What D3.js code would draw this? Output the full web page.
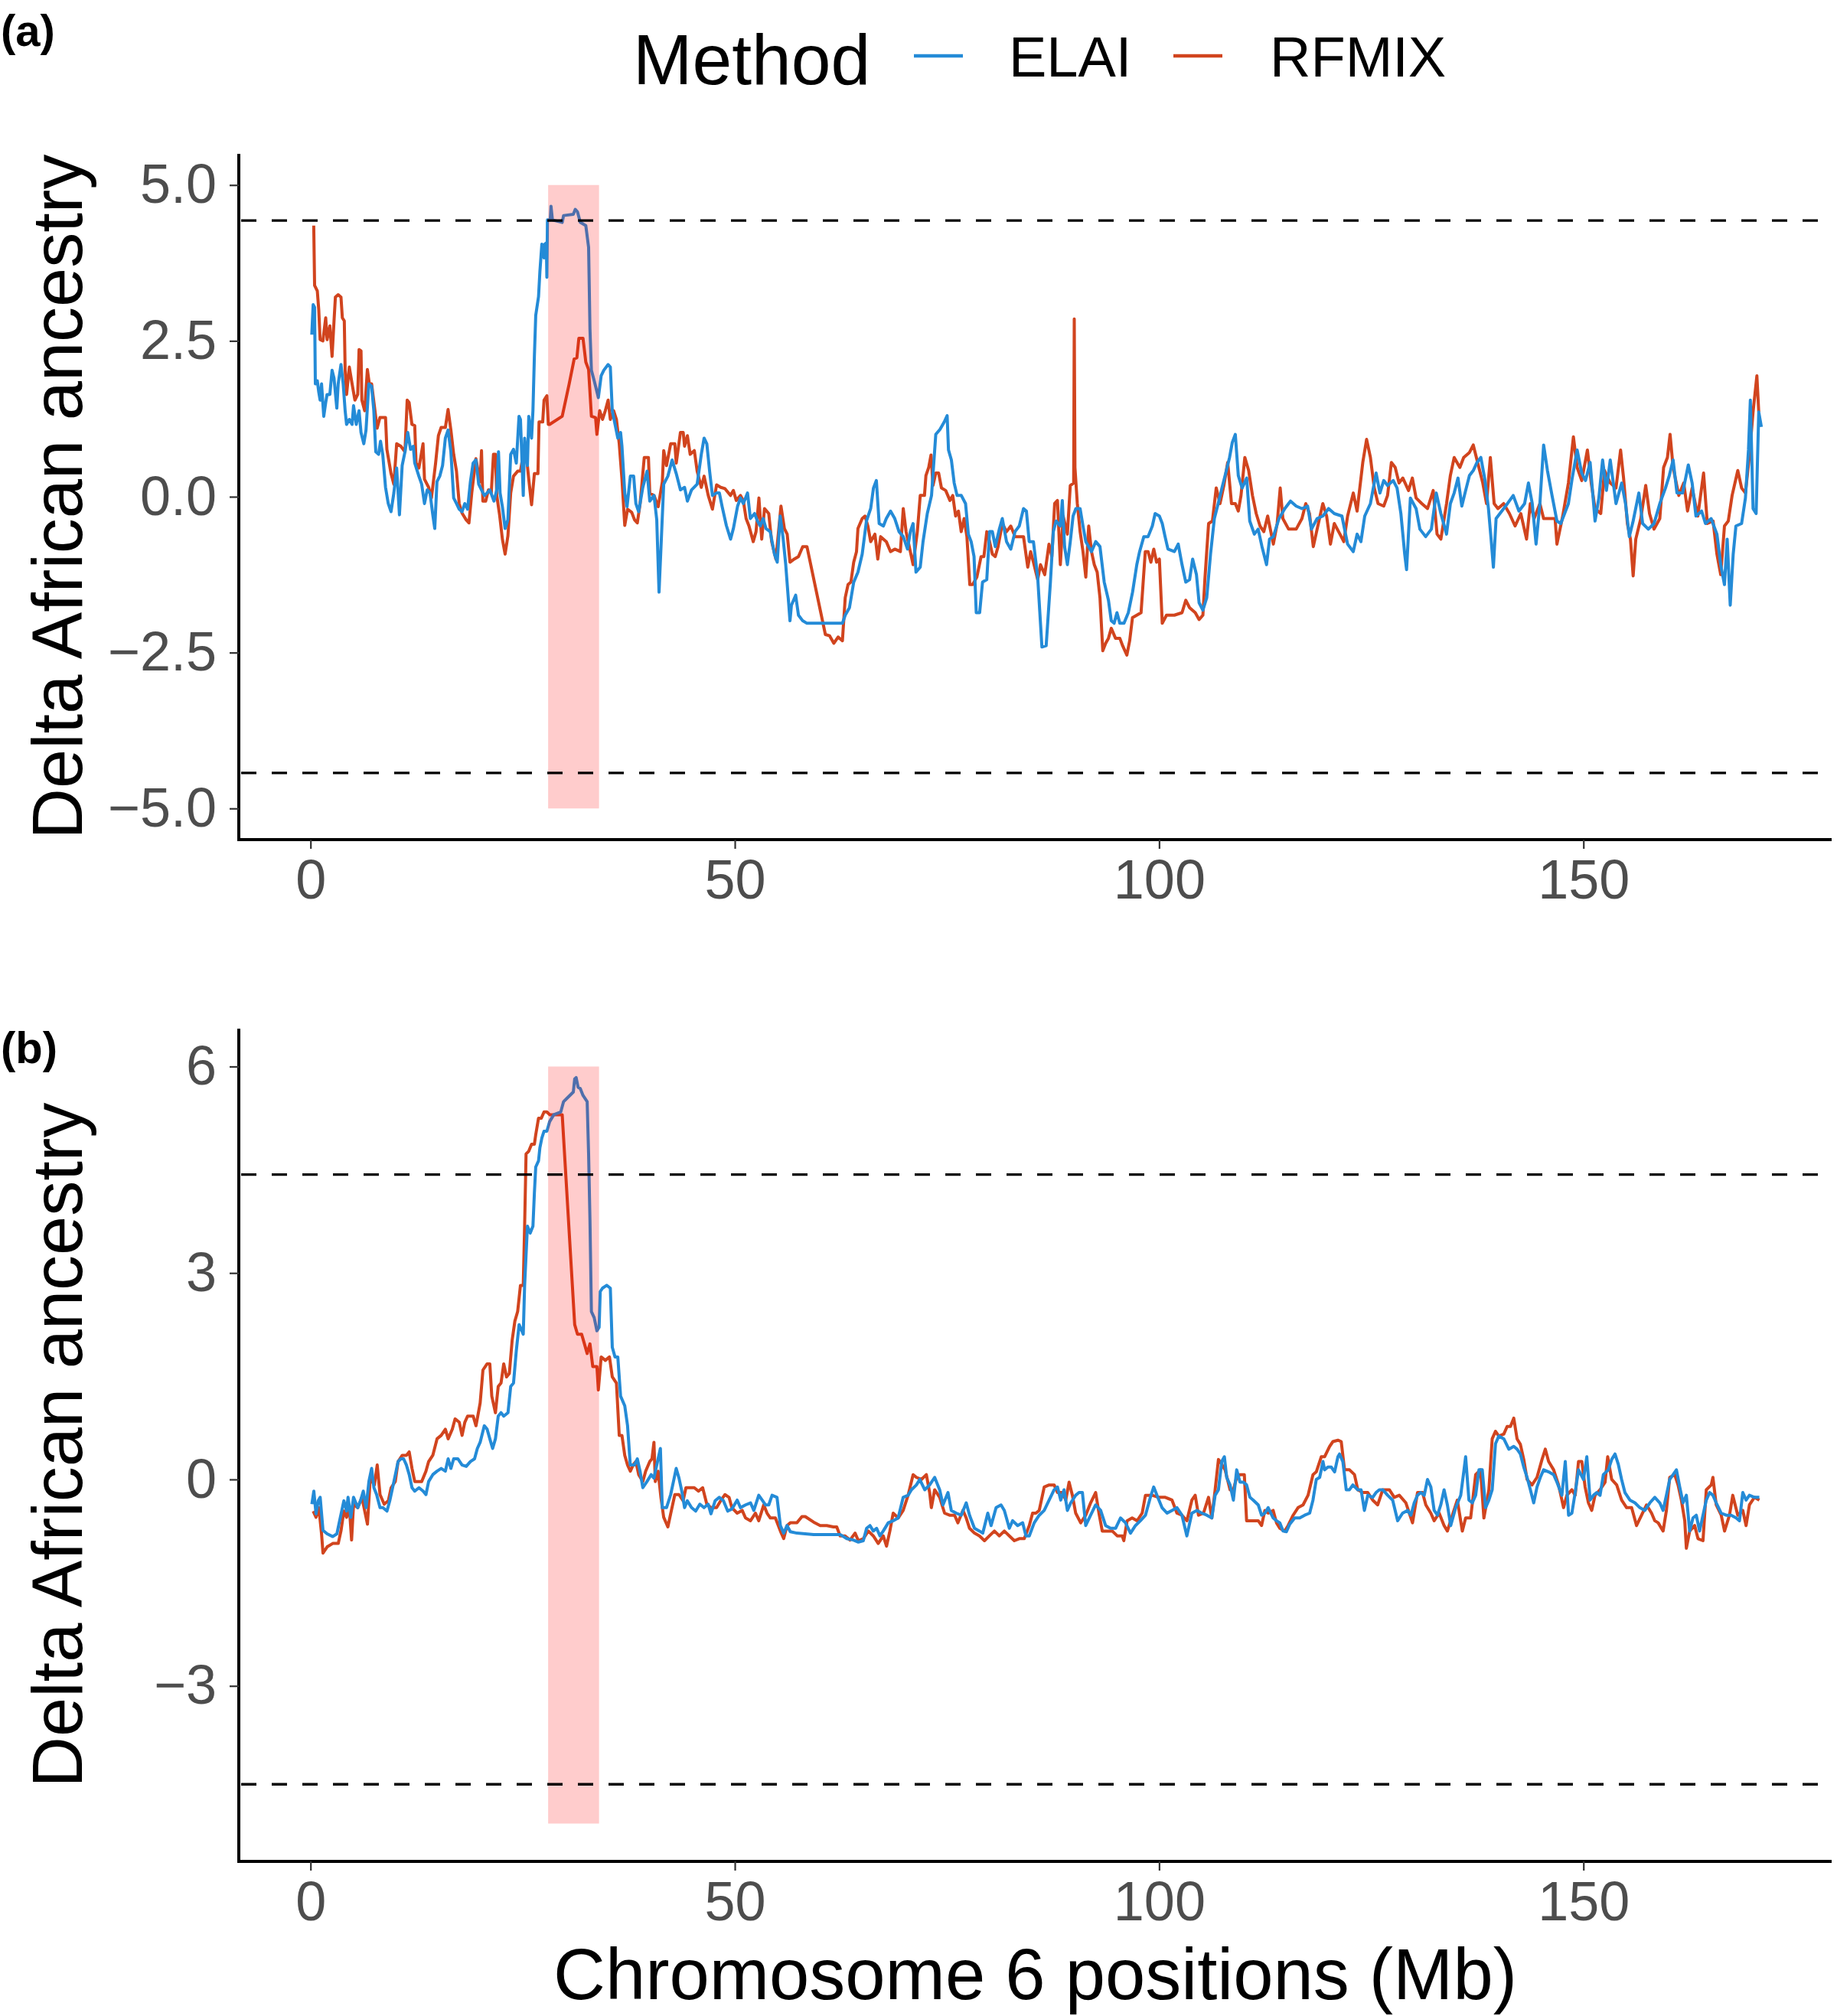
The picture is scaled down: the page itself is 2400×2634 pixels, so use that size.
<!DOCTYPE html>
<html><head><meta charset="utf-8">
<script src="https://cdn.jsdelivr.net/npm/d3@7"></script>
<style>body{margin:0;background:#fff}svg{display:block}</style>
</head><body>
<script>
// ---------------- DATA ----------------
const methods = ["ELAI", "RFMIX"];
const xTicks = [0, 50, 100, 150];
const yTicksA = [-5, -2.5, 0, 2.5, 5];
const yTickLabelsA = ["\u22125.0", "\u22122.5", "0.0", "2.5", "5.0"];
const yTicksB = [-3, 0, 3, 6];
const yTickLabelsB = ["\u22123", "0", "3", "6"];
const threshold = 4.43;
const regionX = [28, 34];
const regionYA = [-5, 5];
const regionYB = [-5, 6];

// Panel (a) ELAI  [position Mb, delta]
const elaiA = [[0.15,2.60],[0.31,3.08],[0.48,3.04],[0.57,1.81],[0.80,1.86],[0.97,1.68],[1.13,1.55],[1.30,1.81],[1.56,1.29],[1.79,1.51],[1.95,1.64],[2.28,1.64],[2.54,2.03],[2.77,1.90],[3.10,1.42],[3.26,1.81],[3.59,2.12],[3.85,1.81],[4.08,1.38],[4.25,1.16],[4.57,1.24],[4.90,1.16],[5.07,1.46],[5.39,1.16],[5.72,1.38],[5.95,1.03],[6.28,0.85],[6.54,1.07],[6.87,1.81],[7.20,1.77],[7.46,1.38],[7.69,0.72],[8.02,0.68],[8.25,0.89],[8.51,0.68],[8.84,0.15],[9.16,-0.11],[9.49,-0.24],[9.82,0.06],[10.15,0.46],[10.48,-0.29],[10.80,0.50],[11.13,0.72],[11.46,1.03],[11.79,0.76],[12.11,0.81],[12.28,0.54],[12.77,0.33],[13.10,0.20],[13.43,-0.11],[13.75,0.11],[14.08,0.06],[14.41,-0.29],[14.64,-0.51],[14.90,0.24],[15.23,0.33],[15.56,0.50],[15.89,0.94],[16.21,1.07],[16.54,0.72],[16.87,-0.02],[17.20,-0.11],[17.52,-0.20],[17.85,-0.24],[18.18,-0.11],[18.51,-0.20],[18.84,0.24],[19.16,0.54],[19.49,0.59],[19.82,0.20],[20.15,0.11],[20.48,0.02],[20.80,0.06],[21.13,0.11],[21.62,-0.07],[21.95,0.11],[22.15,0.72],[22.34,0.06],[22.61,-0.16],[22.93,-0.51],[23.26,-0.37],[23.59,0.68],[23.92,0.76],[24.25,0.54],[24.57,1.29],[24.74,1.24],[25.07,0.02],[25.23,0.94],[25.56,0.50],[25.72,1.29],[26.05,0.94],[26.21,1.38],[26.38,2.25],[26.54,2.91],[26.87,3.21],[27.03,3.61],[27.26,4.05],[27.52,3.83],[27.59,4.05],[27.79,4.07],[27.85,3.52],[27.92,4.44],[28.25,4.44],[28.34,4.66],[28.51,4.44],[29.66,4.40],[29.82,4.51],[30.97,4.53],[31.20,4.61],[31.46,4.57],[31.79,4.40],[32.44,4.35],[32.77,4.00],[32.93,2.69],[33.10,2.03],[33.43,1.86],[33.92,1.59],[34.25,1.94],[34.57,2.03],[35.07,2.12],[35.33,2.08],[35.56,1.38],[35.89,1.16],[36.21,0.94],[36.54,1.03],[36.70,0.81],[37.03,0.06],[37.30,-0.16],[37.69,0.33],[38.08,0.33],[38.34,-0.11],[38.67,-0.24],[39.16,0.15],[39.66,0.41],[39.98,-0.07],[40.48,0.02],[40.80,-0.37],[41.07,-1.53],[41.30,-0.81],[41.62,0.20],[42.11,0.33],[42.61,0.59],[43.10,0.37],[43.59,0.11],[44.08,0.15],[44.41,-0.07],[44.90,0.11],[45.56,0.20],[46.05,0.68],[46.38,0.94],[46.70,0.85],[47.03,0.41],[47.36,0.02],[47.85,0.06],[48.18,0.06],[48.51,-0.16],[49.00,-0.46],[49.50,-0.68],[49.83,-0.51],[50.33,-0.15],[50.67,-0.02],[51.00,-0.11],[51.50,0.06],[51.83,-0.35],[52.33,-0.27],[52.67,-0.39],[53.00,-0.47],[53.34,-0.35],[53.67,-0.51],[54.17,-0.56],[54.67,-0.92],[55.00,-1.05],[55.34,-0.31],[55.67,-0.64],[56.00,-1.09],[56.34,-1.70],[56.50,-1.99],[56.67,-1.74],[57.17,-1.58],[57.50,-1.90],[58.00,-1.99],[58.50,-2.03],[62.68,-2.03],[63.01,-1.90],[63.51,-1.78],[64.01,-1.37],[64.51,-1.21],[65.01,-0.92],[65.51,-0.39],[66.01,-0.19],[66.34,0.14],[66.68,0.26],[67.01,-0.43],[67.51,-0.47],[67.85,-0.35],[68.35,-0.23],[68.85,-0.35],[69.35,-0.56],[69.85,-0.64],[70.35,-0.84],[70.68,-0.56],[71.01,-0.43],[71.35,-1.21],[71.85,-1.13],[72.18,-0.72],[72.68,-0.27],[73.18,0.02],[73.68,1.00],[74.18,1.08],[74.68,1.20],[75.02,1.30],[75.18,0.75],[75.52,0.59],[75.85,0.22],[76.19,0.02],[76.69,0.02],[77.19,-0.11],[77.52,-0.60],[77.85,-0.72],[78.19,-0.96],[78.45,-1.86],[78.85,-1.86],[79.19,-1.37],[79.69,-1.33],[80.02,-0.56],[80.35,-0.56],[80.69,-0.80],[81.19,-0.51],[81.52,-0.35],[82.02,-0.72],[82.52,-0.84],[83.02,-0.56],[83.52,-0.47],[84.02,-0.19],[84.36,-0.23],[84.69,-0.72],[85.19,-0.72],[85.69,-1.29],[86.19,-2.41],[86.69,-2.39],[87.19,-1.37],[87.53,-0.56],[87.86,-0.39],[88.36,-0.47],[88.59,-0.06],[88.86,-0.80],[89.19,-1.09],[89.53,-0.72],[89.86,-0.31],[90.19,-0.19],[90.69,-0.19],[91.03,-0.47],[91.36,-0.72],[91.70,-0.80],[92.03,-0.88],[92.53,-0.72],[93.03,-0.80],[93.53,-1.37],[94.03,-1.66],[94.36,-1.99],[94.70,-2.03],[95.03,-1.86],[95.37,-2.03],[95.86,-2.03],[96.37,-1.86],[96.87,-1.53],[97.37,-1.09],[97.70,-0.88],[98.20,-0.64],[98.70,-0.64],[99.20,-0.47],[99.53,-0.27],[100.03,-0.31],[100.37,-0.43],[100.70,-0.64],[101.04,-0.84],[101.80,-0.88],[102.25,-0.76],[102.70,-1.09],[103.14,-1.37],[103.59,-1.33],[103.95,-1.00],[104.40,-1.25],[104.71,-1.70],[105.16,-1.82],[105.61,-1.62],[106.06,-0.92],[106.51,-0.35],[106.96,-0.11],[107.40,0.14],[107.85,0.38],[108.30,0.63],[108.62,0.87],[108.98,1.00],[109.33,0.34],[109.78,0.14],[110.32,0.30],[110.68,-0.39],[111.22,-0.60],[111.67,-0.52],[112.12,-0.80],[112.66,-1.09],[113.01,-0.68],[113.46,-0.64],[114.13,-0.35],[114.81,-0.19],[115.48,-0.07],[116.15,-0.15],[116.83,-0.19],[117.50,-0.15],[117.95,-0.52],[118.62,-0.35],[119.29,-0.31],[119.97,-0.19],[120.64,-0.27],[121.54,-0.31],[122.21,-0.76],[122.88,-0.88],[123.33,-0.60],[123.78,-0.72],[124.23,-0.31],[124.90,-0.11],[125.57,0.38],[126.02,0.06],[126.47,0.26],[126.92,0.18],[127.59,0.26],[128.04,0.14],[128.49,-0.27],[128.94,-0.92],[129.16,-1.17],[129.61,-0.02],[130.28,-0.19],[130.73,-0.52],[131.41,-0.64],[132.08,-0.52],[132.66,0.06],[133.20,-0.27],[133.87,-0.60],[134.32,-0.11],[134.77,0.06],[135.22,0.30],[135.67,-0.15],[136.12,0.10],[136.57,0.34],[137.02,0.42],[137.46,0.55],[137.91,0.63],[138.36,0.30],[138.81,-0.19],[139.12,-0.68],[139.39,-1.13],[139.71,-0.35],[140.38,-0.23],[141.05,-0.11],[141.73,0.02],[142.40,-0.23],[143.07,-0.11],[143.52,0.22],[143.97,-0.11],[144.42,-0.76],[144.87,-0.11],[145.31,0.83],[145.76,0.42],[146.30,0.02],[146.88,-0.39],[147.33,-0.43],[147.78,-0.27],[148.23,-0.11],[148.68,0.30],[149.26,0.75],[149.80,0.38],[150.25,0.26],[150.79,0.55],[151.37,-0.39],[151.82,-0.02],[152.26,0.59],[152.71,0.10],[153.16,0.59],[153.84,-0.11],[154.51,0.22],[154.96,-0.11],[155.41,-0.64],[155.86,-0.39],[156.53,0.06],[156.98,-0.43],[157.65,-0.52],[158.32,-0.43],[159.00,-0.11],[159.67,0.14],[160.12,0.34],[160.57,0.59],[161.02,0.06],[161.69,0.06],[162.36,0.51],[162.81,0.22],[163.26,-0.31],[163.93,-0.23],[164.38,-0.43],[165.05,-0.35],[165.73,-0.60],[166.18,-1.09],[166.62,-1.41],[166.94,-0.68],[167.30,-1.74],[167.65,-0.92],[167.97,-0.47],[168.64,-0.43],[169.09,-0.02],[169.45,0.75],[169.67,1.55],[169.99,-0.19],[170.35,-0.27],[170.66,1.36],[170.97,1.12]];

// Panel (a) RFMIX
const rfmixA = [[0.38,4.35],[0.48,3.39],[0.80,3.30],[0.97,3.00],[1.13,2.52],[1.46,2.50],[1.79,2.87],[1.95,2.52],[2.28,2.74],[2.54,2.25],[2.77,2.82],[2.93,3.20],[3.26,3.24],[3.59,3.20],[3.75,2.87],[3.98,2.82],[4.08,2.04],[4.25,1.64],[4.57,2.08],[4.90,1.81],[5.23,1.55],[5.56,1.64],[5.72,2.36],[5.95,2.34],[6.05,1.55],[6.38,1.38],[6.70,2.04],[6.93,1.81],[7.20,1.81],[7.52,1.46],[7.85,1.10],[8.18,1.27],[8.84,1.27],[9.00,0.76],[9.49,0.37],[9.82,0.20],[10.15,0.85],[10.64,0.81],[11.13,0.72],[11.39,1.55],[11.62,1.51],[11.95,1.16],[12.28,1.14],[12.44,0.54],[12.77,0.46],[13.26,0.85],[13.43,0.28],[13.92,0.15],[14.25,-0.02],[14.74,0.54],[15.07,0.98],[15.39,1.11],[15.89,1.11],[16.21,1.40],[16.54,1.07],[16.87,0.68],[17.20,0.41],[17.52,-0.11],[17.85,-0.26],[18.34,-0.37],[18.67,-0.42],[19.00,0.06],[19.49,0.61],[19.98,0.24],[20.15,0.74],[20.31,-0.07],[20.64,-0.07],[20.97,0.11],[21.30,0.06],[21.56,0.68],[21.79,0.68],[21.95,0.02],[22.28,-0.29],[22.61,-0.68],[22.93,-0.92],[23.26,-0.63],[23.59,0.06],[23.92,0.33],[24.41,0.41],[24.74,0.41],[25.07,0.68],[25.39,0.72],[25.72,0.28],[26.05,-0.13],[26.38,0.37],[26.80,0.37],[26.93,1.20],[27.36,1.20],[27.52,1.55],[27.85,1.62],[28.02,1.16],[28.18,1.16],[29.66,1.29],[30.48,1.81],[31.07,2.21],[31.39,2.23],[31.62,2.54],[32.11,2.54],[32.44,2.16],[32.77,2.04],[33.10,1.29],[33.59,1.27],[33.75,1.00],[34.08,1.38],[34.41,1.24],[34.74,1.38],[35.07,1.55],[35.33,1.24],[35.72,1.38],[36.05,1.24],[36.38,0.85],[36.70,0.28],[37.03,-0.46],[37.36,-0.20],[37.85,-0.25],[38.18,-0.37],[38.51,-0.42],[38.84,-0.11],[39.33,0.63],[39.82,0.63],[39.98,0.06],[40.48,0.02],[40.97,-0.16],[41.46,0.24],[41.62,0.74],[41.95,0.50],[42.44,0.85],[42.93,0.85],[43.10,0.54],[43.59,1.03],[43.92,1.03],[44.08,0.81],[44.41,0.98],[44.74,0.68],[45.23,0.74],[45.56,0.41],[46.05,0.15],[46.38,0.33],[46.87,0.02],[47.36,-0.20],[47.85,0.19],[48.34,0.15],[48.84,0.13],[49.49,0.02],[49.83,0.10],[50.17,-0.06],[50.67,0.02],[51.00,-0.06],[51.33,-0.35],[51.67,-0.47],[52.17,-0.72],[52.50,-0.56],[52.84,-0.02],[53.17,-0.68],[53.50,-0.19],[54.00,-0.27],[54.34,-0.72],[54.84,-1.00],[55.44,-0.15],[55.84,-0.51],[56.17,-0.60],[56.50,-1.05],[57.00,-1.00],[57.50,-0.96],[58.00,-0.80],[58.50,-0.80],[60.67,-2.21],[61.17,-2.23],[61.67,-2.35],[62.17,-2.25],[62.68,-2.31],[63.01,-1.62],[63.34,-1.41],[63.68,-1.37],[64.01,-1.05],[64.34,-0.88],[64.51,-0.51],[65.01,-0.35],[65.34,-0.31],[65.68,-0.47],[66.01,-0.72],[66.51,-0.60],[66.85,-1.00],[67.18,-0.64],[67.85,-0.72],[68.35,-0.88],[68.85,-0.84],[69.51,-0.88],[69.85,-0.19],[70.18,-0.56],[70.68,-0.88],[71.01,-1.09],[71.51,-0.56],[71.85,0.02],[72.35,0.02],[72.52,0.34],[72.85,0.47],[73.12,0.67],[73.35,0.18],[73.68,0.38],[74.02,0.38],[74.35,0.14],[74.85,0.10],[75.35,-0.06],[75.68,0.02],[76.02,-0.31],[76.35,-0.23],[76.68,-0.56],[77.02,-0.35],[77.35,-0.64],[77.69,-1.41],[78.02,-1.41],[78.52,-1.29],[79.02,-0.96],[79.35,-0.96],[79.69,-0.56],[80.02,-0.72],[80.35,-0.92],[80.69,-0.96],[81.02,-0.80],[81.52,-0.43],[82.02,-0.56],[82.52,-0.47],[83.02,-0.64],[83.52,-0.64],[84.02,-0.64],[84.52,-1.13],[84.86,-0.88],[85.19,-1.05],[85.69,-1.33],[86.02,-1.09],[86.52,-1.25],[87.02,-0.76],[87.36,-0.96],[87.69,-0.11],[88.02,-0.06],[88.36,-1.09],[88.69,-0.31],[89.19,-0.60],[89.53,0.18],[89.93,0.22],[90.00,2.85],[90.08,0.47],[90.36,-0.11],[90.69,-0.56],[91.03,-0.88],[91.36,-1.29],[91.70,-0.47],[92.03,-0.88],[92.36,-1.09],[92.70,-1.21],[93.03,-1.62],[93.36,-2.47],[93.70,-2.35],[94.03,-2.27],[94.36,-2.11],[94.86,-2.27],[95.37,-2.27],[95.70,-2.39],[96.20,-2.54],[96.53,-2.31],[96.86,-1.94],[97.37,-1.90],[97.87,-1.86],[98.37,-0.88],[98.70,-0.88],[99.03,-1.05],[99.37,-0.84],[99.70,-1.05],[100.03,-1.00],[100.37,-2.03],[100.87,-1.90],[101.80,-1.90],[102.70,-1.86],[103.14,-1.66],[103.59,-1.78],[104.26,-1.86],[104.71,-1.97],[105.16,-1.90],[105.39,-1.33],[105.83,-0.43],[106.28,-0.39],[106.73,0.14],[107.18,-0.11],[107.63,0.18],[108.08,0.55],[108.53,-0.11],[108.98,-0.11],[109.33,-0.23],[109.65,0.02],[110.10,0.63],[110.55,0.42],[111.00,0.02],[111.44,-0.27],[111.89,-0.47],[112.34,-0.56],[112.79,-0.31],[113.46,-0.76],[113.91,-0.43],[114.27,0.14],[114.58,-0.35],[115.26,-0.52],[116.15,-0.52],[116.83,-0.35],[117.28,-0.11],[117.72,-0.27],[118.17,-0.80],[118.62,-0.52],[119.29,-0.11],[119.74,-0.31],[120.19,-0.76],[120.64,-0.43],[121.31,-0.60],[121.76,-0.72],[122.21,-0.31],[122.88,0.06],[123.33,-0.23],[124.00,0.55],[124.45,0.92],[124.90,0.63],[125.35,0.14],[125.80,-0.11],[126.47,-0.15],[126.92,0.02],[127.37,0.55],[127.82,0.47],[128.27,0.22],[128.72,0.30],[129.39,0.10],[129.84,0.30],[130.28,-0.02],[130.96,-0.11],[131.63,-0.19],[132.30,0.10],[132.75,-0.60],[133.20,-0.68],[133.87,-0.11],[134.32,0.34],[134.77,0.63],[135.44,0.47],[135.89,0.63],[136.57,0.71],[137.02,0.83],[137.46,0.59],[138.14,0.22],[138.58,-0.11],[139.03,0.63],[139.48,-0.11],[139.93,-0.19],[140.60,-0.11],[141.28,-0.27],[141.95,-0.47],[142.62,-0.27],[143.30,-0.68],[143.74,-0.11],[144.19,-0.35],[144.87,-0.11],[145.31,-0.35],[145.99,-0.35],[146.66,-0.35],[146.88,-0.76],[147.56,-0.31],[148.23,0.22],[148.82,0.96],[149.26,0.47],[149.80,0.26],[150.47,0.75],[150.92,0.22],[151.37,-0.19],[152.04,-0.27],[152.49,0.42],[153.16,0.22],[153.84,0.14],[154.38,0.75],[154.73,0.30],[155.18,-0.43],[155.54,-0.68],[155.86,-1.27],[156.17,-0.68],[156.76,-0.35],[157.34,0.18],[157.79,-0.27],[158.32,-0.52],[159.00,-0.35],[159.45,0.47],[159.90,0.63],[160.21,1.00],[160.57,0.47],[161.24,0.02],[161.82,0.22],[162.27,-0.23],[162.81,0.14],[163.48,-0.31],[164.16,0.38],[164.60,-0.43],[165.28,-0.39],[165.73,-0.92],[166.18,-1.25],[166.62,-0.47],[167.07,-0.39],[167.52,0.02],[168.19,0.42],[168.64,0.14],[169.09,0.06],[169.54,0.63],[169.99,1.36],[170.44,1.94],[170.66,1.36]];

// Panel (b) ELAI
const elaiB = [[0.16,-0.36],[0.39,-0.17],[0.65,-0.50],[0.91,-0.31],[1.14,-0.26],[1.47,-0.74],[1.96,-0.79],[2.62,-0.83],[3.11,-0.79],[3.43,-0.60],[3.93,-0.31],[4.25,-0.46],[4.42,-0.26],[4.75,-0.55],[5.07,-0.26],[5.57,-0.41],[5.89,-0.31],[6.22,-0.17],[6.55,-0.41],[6.88,-0.03],[7.20,0.16],[7.47,-0.12],[7.79,-0.22],[8.19,-0.41],[8.52,-0.41],[9.01,-0.46],[9.34,-0.31],[9.83,-0.03],[10.32,0.26],[10.65,0.30],[10.97,0.30],[11.30,0.21],[11.63,0.07],[11.96,-0.12],[12.28,-0.17],[12.78,-0.12],[13.27,-0.17],[13.60,-0.22],[13.92,-0.03],[14.41,0.07],[14.91,0.12],[15.40,0.16],[15.89,0.12],[16.22,0.30],[16.54,0.16],[16.87,0.30],[17.36,0.30],[17.86,0.21],[18.35,0.19],[18.84,0.26],[19.33,0.30],[19.66,0.45],[19.99,0.54],[20.48,0.78],[20.81,0.73],[21.13,0.59],[21.46,0.45],[21.79,0.59],[22.12,0.92],[22.45,0.97],[22.77,0.92],[23.27,0.97],[23.59,1.35],[23.92,1.40],[24.25,1.87],[24.58,2.25],[24.90,2.16],[25.07,2.11],[25.23,2.82],[25.56,3.68],[25.89,3.58],[26.21,3.68],[26.38,4.16],[26.54,4.54],[26.87,4.63],[27.03,4.82],[27.26,4.96],[27.52,5.06],[27.85,5.06],[28.18,5.20],[28.67,5.30],[29.49,5.34],[29.82,5.49],[30.15,5.53],[30.97,5.63],[31.13,5.82],[31.30,5.84],[31.53,5.70],[31.79,5.68],[32.11,5.58],[32.60,5.49],[32.77,4.73],[32.93,3.77],[33.10,2.44],[33.43,2.35],[33.75,2.16],[34.01,2.21],[34.14,2.73],[34.41,2.78],[34.90,2.82],[35.33,2.78],[35.56,1.92],[35.88,1.78],[36.21,1.78],[36.54,1.21],[37.03,1.07],[37.36,0.78],[37.68,0.21],[38.18,0.21],[38.51,0.30],[38.83,0.12],[39.16,-0.12],[39.65,-0.03],[40.14,0.07],[40.47,0.02],[40.80,0.21],[41.23,0.45],[41.45,-0.41],[41.95,-0.41],[42.44,-0.22],[42.77,-0.03],[43.09,0.16],[43.42,0.02],[43.75,-0.17],[44.08,-0.41],[44.40,-0.31],[44.90,-0.41],[45.39,-0.46],[45.88,-0.36],[46.37,-0.41],[46.86,-0.36],[47.19,-0.50],[47.68,-0.31],[48.17,-0.26],[48.66,-0.31],[49.16,-0.46],[49.65,-0.43],[50.28,-0.30],[50.67,-0.41],[51.26,-0.37],[51.85,-0.34],[52.24,-0.45],[52.82,-0.23],[53.22,-0.30],[53.61,-0.37],[54.00,-0.37],[54.39,-0.23],[54.97,-0.26],[55.37,-0.67],[55.76,-0.78],[56.15,-0.67],[56.54,-0.76],[57.32,-0.78],[59.28,-0.80],[61.23,-0.80],[62.41,-0.80],[63.19,-0.86],[63.97,-0.88],[64.56,-0.91],[65.14,-0.89],[65.53,-0.71],[65.93,-0.67],[66.32,-0.75],[66.71,-0.71],[67.10,-0.82],[67.49,-0.75],[68.08,-0.63],[68.66,-0.60],[69.25,-0.56],[69.84,-0.26],[70.42,-0.23],[70.81,-0.15],[71.40,-0.08],[71.79,0.00],[72.38,-0.15],[72.96,-0.08],[73.55,0.03],[74.14,-0.15],[74.53,-0.37],[75.12,-0.19],[75.51,-0.45],[76.09,-0.49],[76.68,-0.52],[77.27,-0.34],[77.66,-0.52],[78.24,-0.71],[78.83,-0.75],[79.22,-0.78],[79.81,-0.49],[80.20,-0.67],[80.79,-0.41],[81.37,-0.37],[81.76,-0.45],[82.35,-0.71],[82.74,-0.60],[83.33,-0.67],[83.92,-0.63],[84.31,-0.82],[84.70,-0.82],[85.28,-0.63],[85.87,-0.52],[86.46,-0.45],[87.04,-0.30],[87.63,-0.15],[88.02,-0.11],[88.41,-0.30],[88.80,-0.15],[89.19,-0.45],[89.59,-0.34],[90.17,-0.23],[90.56,-0.19],[90.96,-0.19],[91.35,-0.67],[91.93,-0.52],[92.52,-0.37],[93.11,-0.45],[93.69,-0.67],[94.28,-0.71],[94.87,-0.71],[95.45,-0.56],[96.04,-0.63],[96.63,-0.78],[97.21,-0.67],[97.80,-0.60],[98.39,-0.52],[98.97,-0.26],[99.36,-0.11],[99.75,-0.23],[100.34,-0.41],[100.93,-0.49],[101.52,-0.45],[102.10,-0.41],[102.69,-0.52],[103.27,-0.82],[103.86,-0.49],[104.45,-0.45],[105.04,-0.49],[105.62,-0.52],[106.21,-0.56],[106.60,-0.23],[106.99,-0.15],[107.38,0.26],[107.69,0.33],[107.96,0.03],[108.36,-0.08],[108.75,-0.30],[109.14,0.14],[109.53,-0.04],[109.92,-0.04],[110.31,-0.08],[110.70,-0.26],[111.09,-0.30],[111.68,-0.37],[112.07,-0.52],[112.46,-0.49],[112.85,-0.41],[113.44,-0.56],[113.83,-0.60],[114.22,-0.63],[114.61,-0.75],[115.00,-0.76],[115.39,-0.65],[115.98,-0.56],[116.57,-0.56],[117.15,-0.52],[117.74,-0.49],[118.13,-0.30],[118.52,0.00],[118.92,0.03],[119.31,0.26],[119.50,0.14],[119.89,0.18],[120.28,0.18],[120.68,0.11],[121.07,0.33],[121.26,0.37],[121.65,0.26],[122.05,-0.15],[122.43,-0.15],[122.83,-0.08],[123.41,-0.15],[123.80,-0.15],[124.19,-0.45],[124.59,-0.23],[125.17,-0.26],[125.56,-0.19],[125.95,-0.15],[126.35,-0.15],[126.93,-0.23],[127.52,-0.30],[128.11,-0.60],[128.69,-0.49],[129.28,-0.45],[129.67,-0.52],[130.06,-0.34],[130.45,-0.23],[130.84,-0.19],[131.24,-0.23],[131.63,0.00],[132.02,-0.11],[132.41,-0.45],[132.80,-0.52],[133.19,-0.37],[133.58,-0.15],[133.97,-0.37],[134.36,-0.67],[134.95,-0.41],[135.54,-0.23],[135.93,0.14],[136.12,0.33],[136.51,-0.30],[136.91,-0.34],[137.30,-0.23],[137.69,0.14],[138.08,0.14],[138.47,-0.41],[138.86,-0.30],[139.25,-0.15],[139.64,0.52],[140.03,0.63],[140.62,0.59],[141.21,0.44],[141.79,0.48],[142.18,0.44],[142.57,0.37],[142.97,0.18],[143.36,0.03],[143.75,-0.15],[144.14,-0.34],[144.53,-0.11],[144.92,0.03],[145.31,0.14],[145.90,0.11],[146.49,0.07],[146.88,-0.04],[147.46,-0.23],[147.86,0.26],[148.25,-0.52],[148.64,-0.49],[149.03,-0.19],[149.42,0.14],[150.01,0.00],[150.40,0.33],[150.79,-0.30],[151.18,-0.23],[151.57,-0.19],[151.96,-0.23],[152.35,0.07],[152.94,0.14],[153.33,0.29],[153.72,0.37],[154.11,0.22],[154.50,0.00],[154.89,-0.19],[155.48,-0.30],[156.07,-0.34],[156.65,-0.41],[157.24,-0.45],[157.83,-0.34],[158.41,-0.26],[159.00,-0.34],[159.39,-0.45],[159.78,-0.23],[160.17,0.00],[160.57,0.07],[160.96,0.14],[161.35,-0.11],[161.74,-0.34],[162.13,-0.23],[162.52,-0.75],[162.91,-0.56],[163.30,-0.52],[163.69,-0.75],[164.09,-0.52],[164.48,-0.30],[164.87,-0.19],[165.26,-0.23],[165.65,-0.34],[166.24,-0.49],[166.82,-0.52],[167.41,-0.52],[168.00,-0.56],[168.39,-0.60],[168.78,-0.19],[169.17,-0.30],[169.56,-0.23],[170.15,-0.26],[170.73,-0.26]];

// Panel (b) RFMIX
const rfmixB = [[0.32,-0.46],[0.65,-0.55],[0.98,-0.41],[1.30,-0.79],[1.47,-1.07],[1.96,-0.98],[2.62,-0.93],[3.27,-0.93],[3.60,-0.74],[3.93,-0.46],[4.25,-0.55],[4.58,-0.41],[4.84,-0.88],[5.07,-0.36],[5.57,-0.41],[6.06,-0.26],[6.39,-0.46],[6.71,-0.65],[7.04,0.02],[7.53,-0.08],[7.86,0.21],[8.19,-0.22],[8.68,-0.36],[9.17,-0.31],[9.50,-0.12],[9.99,-0.03],[10.32,0.26],[10.81,0.35],[11.30,0.35],[11.63,0.40],[11.96,0.16],[12.28,-0.03],[12.61,-0.03],[13.10,-0.03],[13.60,0.12],[13.92,0.26],[14.41,0.35],[14.91,0.59],[15.40,0.64],[15.89,0.73],[16.22,0.59],[16.71,0.73],[17.04,0.88],[17.53,0.83],[17.86,0.64],[18.18,0.83],[18.51,0.92],[19.17,0.92],[19.50,0.78],[19.99,1.11],[20.32,1.59],[20.81,1.68],[21.13,1.68],[21.36,1.21],[21.79,0.97],[22.12,1.35],[22.45,1.40],[22.77,1.68],[23.10,1.49],[23.43,1.54],[23.76,2.02],[24.08,2.30],[24.41,2.44],[24.74,2.82],[25.07,2.82],[25.23,3.68],[25.40,4.73],[25.72,4.77],[26.05,4.87],[26.38,4.87],[26.54,5.01],[26.87,5.25],[27.20,5.25],[27.52,5.34],[27.85,5.34],[28.18,5.30],[29.66,5.30],[31.13,2.25],[31.46,2.11],[31.95,2.11],[32.28,1.97],[32.60,1.83],[32.93,1.97],[33.26,1.64],[33.75,1.64],[33.92,1.30],[34.25,1.78],[34.74,1.73],[35.23,1.78],[35.56,1.49],[36.05,1.40],[36.38,0.64],[36.70,0.64],[37.03,0.35],[37.36,0.21],[37.69,0.12],[38.01,0.21],[38.34,0.26],[38.67,0.07],[39.16,-0.03],[39.49,0.12],[39.98,0.26],[40.24,0.30],[40.47,0.54],[40.63,-0.03],[40.96,0.12],[41.29,-0.26],[41.62,-0.55],[42.11,-0.69],[42.44,-0.50],[42.93,-0.22],[43.42,-0.22],[43.91,-0.31],[44.24,-0.12],[44.57,-0.12],[45.22,-0.12],[45.72,-0.17],[46.21,-0.12],[46.70,-0.36],[47.19,-0.41],[47.85,-0.41],[48.34,-0.31],[48.83,-0.22],[49.32,-0.26],[49.65,-0.41],[50.28,-0.49],[50.87,-0.45],[51.26,-0.56],[51.85,-0.60],[52.43,-0.49],[52.82,-0.60],[53.41,-0.37],[53.80,-0.49],[54.19,-0.56],[54.78,-0.56],[55.37,-0.75],[55.76,-0.86],[56.15,-0.67],[56.54,-0.63],[57.32,-0.63],[57.91,-0.54],[58.30,-0.54],[59.28,-0.62],[60.06,-0.67],[60.84,-0.67],[61.62,-0.69],[62.01,-0.69],[62.41,-0.82],[62.99,-0.82],[63.58,-0.88],[64.17,-0.78],[64.56,-0.89],[65.14,-0.86],[65.73,-0.75],[66.32,-0.82],[66.90,-0.93],[67.49,-0.82],[67.88,-0.97],[68.27,-0.75],[68.66,-0.49],[69.25,-0.56],[69.84,-0.45],[70.42,-0.23],[71.01,0.07],[71.40,0.03],[71.99,0.00],[72.57,0.07],[72.96,-0.19],[73.16,-0.41],[73.55,-0.15],[74.14,-0.26],[74.72,-0.49],[75.31,-0.52],[75.90,-0.52],[76.29,-0.63],[76.88,-0.45],[77.27,-0.56],[77.66,-0.71],[78.24,-0.78],[78.83,-0.82],[79.42,-0.89],[80.00,-0.82],[80.59,-0.75],[81.18,-0.82],[81.76,-0.75],[82.35,-0.82],[82.94,-0.89],[83.52,-0.86],[84.11,-0.86],[84.70,-0.67],[85.09,-0.49],[85.48,-0.49],[85.87,-0.45],[86.46,-0.11],[87.04,-0.08],[87.63,-0.08],[88.02,-0.19],[88.61,-0.19],[89.00,-0.30],[89.39,-0.04],[89.78,-0.23],[90.17,-0.49],[90.76,-0.63],[91.35,-0.52],[91.93,-0.34],[92.52,-0.19],[92.91,-0.49],[93.30,-0.75],[93.89,-0.75],[94.48,-0.75],[95.06,-0.82],[95.65,-0.82],[95.84,-0.89],[96.23,-0.60],[96.82,-0.56],[97.41,-0.60],[98.00,-0.49],[98.39,-0.23],[99.17,-0.23],[99.95,-0.26],[100.73,-0.26],[101.52,-0.30],[102.10,-0.49],[102.69,-0.52],[103.27,-0.60],[103.86,-0.30],[104.25,-0.23],[104.64,-0.52],[105.23,-0.49],[105.82,-0.26],[106.21,-0.56],[106.60,-0.15],[106.99,0.29],[107.38,0.22],[107.77,0.14],[108.36,-0.15],[108.75,-0.15],[109.14,0.03],[109.53,0.07],[110.04,0.07],[110.31,-0.60],[111.09,-0.60],[111.68,-0.60],[112.07,-0.67],[112.46,-0.45],[112.85,-0.49],[113.44,-0.45],[113.83,-0.63],[114.22,-0.71],[114.81,-0.75],[115.20,-0.67],[115.79,-0.52],[116.37,-0.41],[116.96,-0.37],[117.55,-0.23],[118.13,0.07],[118.52,0.11],[119.11,0.33],[119.50,0.33],[120.09,0.48],[120.48,0.55],[121.07,0.57],[121.46,0.55],[121.85,0.14],[122.43,0.14],[123.02,0.07],[123.41,-0.15],[124.00,-0.19],[124.59,-0.19],[125.17,-0.30],[125.76,-0.37],[126.35,-0.15],[127.13,-0.15],[127.71,-0.26],[128.30,-0.23],[129.08,-0.34],[129.86,-0.63],[130.45,-0.19],[131.04,-0.19],[131.43,-0.37],[132.02,-0.49],[132.41,-0.60],[133.00,-0.49],[133.58,-0.67],[133.97,-0.75],[134.56,-0.52],[135.14,-0.30],[135.73,-0.75],[136.12,-0.56],[136.71,-0.56],[137.30,0.07],[137.88,0.14],[138.27,-0.56],[138.86,-0.15],[139.25,0.59],[139.64,0.70],[140.03,0.63],[140.62,0.66],[141.01,0.77],[141.40,0.77],[141.79,0.89],[142.18,0.59],[142.57,0.51],[142.97,0.29],[143.36,0.00],[143.94,-0.08],[144.53,0.03],[145.12,0.29],[145.51,0.44],[145.90,0.26],[146.49,0.14],[147.07,-0.08],[147.66,-0.41],[148.05,-0.23],[148.64,-0.15],[149.03,-0.23],[149.42,0.26],[149.81,0.26],[150.20,-0.11],[150.59,-0.34],[150.98,-0.45],[151.37,-0.23],[151.96,-0.15],[152.55,-0.04],[152.86,0.33],[153.33,0.00],[153.92,-0.08],[154.50,-0.30],[155.09,-0.41],[155.68,-0.41],[156.26,-0.67],[156.85,-0.52],[157.44,-0.37],[158.03,-0.49],[158.41,-0.60],[158.81,-0.63],[159.39,-0.75],[159.78,-0.45],[160.17,0.03],[160.76,0.07],[161.15,-0.08],[161.54,-0.30],[161.94,-0.60],[162.13,-1.00],[162.52,-0.75],[163.11,-0.67],[163.50,-0.86],[164.09,-0.89],[164.48,-0.15],[165.06,-0.08],[165.26,0.03],[165.65,-0.37],[166.24,-0.52],[166.63,-0.75],[167.21,-0.52],[167.60,-0.23],[168.19,-0.52],[168.78,-0.45],[169.17,-0.67],[169.56,-0.37],[170.15,-0.26],[170.73,-0.30]];

// ---------------- DRAW ----------------
const W = 2400, H = 2634;
const FONT = "'Liberation Sans', Arial, Helvetica, sans-serif";
const COL = {ELAI: "#248BD7", RFMIX: "#D1441E"};
const svg = d3.select("body").append("svg").attr("width", W).attr("height", H)
  .style("font-family", FONT);

const left = 312, right = 2393;
const x = d3.scaleLinear().domain([-8.45, 179.25]).range([left, right]);

function panel(cfg) {
  const y = d3.scaleLinear().domain(cfg.yDomain).range([cfg.bottom, cfg.top]);
  const g = svg.append("g");
  const line = d3.line().x(d => x(d[0])).y(d => y(d[1]));

  // lines: RFMIX underneath, ELAI on top
  g.append("path").datum(cfg.rfmix).attr("d", line).attr("fill", "none")
    .attr("stroke", COL.RFMIX).attr("stroke-width", 4).attr("stroke-linejoin", "round");
  g.append("path").datum(cfg.elai).attr("d", line).attr("fill", "none")
    .attr("stroke", COL.ELAI).attr("stroke-width", 4).attr("stroke-linejoin", "round");

  // highlighted region (semi-transparent, on top of lines)
  g.append("rect")
    .attr("x", x(regionX[0])).attr("width", x(regionX[1]) - x(regionX[0]))
    .attr("y", y(cfg.regionY[1])).attr("height", y(cfg.regionY[0]) - y(cfg.regionY[1]))
    .attr("fill", "#ff0000").attr("fill-opacity", 0.2);

  // threshold lines
  [threshold, -threshold].forEach(t => {
    g.append("line").attr("x1", left).attr("x2", right)
      .attr("y1", y(t)).attr("y2", y(t))
      .attr("stroke", "#000").attr("stroke-width", 3.4)
      .attr("stroke-dasharray", "20,20").attr("stroke-dashoffset", -3);
  });

  // axes
  const ax = g.append("g").attr("transform", `translate(0,${cfg.bottom})`)
    .call(d3.axisBottom(x).tickValues(xTicks).tickSize(12).tickSizeOuter(0).tickPadding(14));
  const ay = g.append("g").attr("transform", `translate(${left},0)`)
    .call(d3.axisLeft(y).tickValues(cfg.yTicks).tickFormat((d, i) => cfg.yLabels[i])
      .tickSize(12).tickSizeOuter(0).tickPadding(17));
  [ax, ay].forEach(a => {
    a.select(".domain").attr("stroke", "#000").attr("stroke-width", 4);
    a.selectAll(".tick line").attr("stroke", "#333").attr("stroke-width", 2.2);
    a.selectAll(".tick text").attr("fill", "#4D4D4D")
      .style("font-size", "72px").style("font-family", FONT);
  });
  ax.select(".domain").attr("d", `M${left - 2},0H${right}`);
  ay.select(".domain").attr("d", `M0,${cfg.top}V${cfg.bottom + 2}`);

  // y title
  g.append("text").attr("transform", `translate(107,${(cfg.top + cfg.bottom) / 2}) rotate(-90)`)
    .attr("text-anchor", "middle").style("font-size", "92px").attr("fill", "#000")
    .text("Delta African ancestry");

  // panel tag
  g.append("text").attr("x", 1).attr("y", cfg.tagY).style("font-size", "58px")
    .style("font-weight", "bold").attr("fill", "#000").text(cfg.tag);
}

panel({top: 201, bottom: 1097, yDomain: [-5.5, 5.5], yTicks: yTicksA, yLabels: yTickLabelsA,
  elai: elaiA, rfmix: rfmixA, regionY: regionYA, tag: "(a)", tagY: 60});
panel({top: 1344, bottom: 2432, yDomain: [-5.55, 6.55], yTicks: yTicksB, yLabels: yTickLabelsB,
  elai: elaiB, rfmix: rfmixB, regionY: regionYB, tag: "(b)", tagY: 1389});

// x title
svg.append("text").attr("x", (left + right) / 2).attr("y", 2612).attr("text-anchor", "middle")
  .style("font-size", "94px").attr("fill", "#000").text("Chromosome 6 positions (Mb)");

// legend
const lg = svg.append("g");
lg.append("text").attr("x", 827).attr("y", 110).style("font-size", "93px").attr("fill", "#000").text("Method");
const keyX = [1194, 1533], labX = [1318, 1659];
methods.forEach((m, i) => {
  lg.append("line").attr("x1", keyX[i]).attr("x2", keyX[i] + 64).attr("y1", 73).attr("y2", 73)
    .attr("stroke", COL[m]).attr("stroke-width", 4.5);
  lg.append("text").attr("x", labX[i]).attr("y", 100).style("font-size", "74px")
    .attr("fill", "#000").text(m);
});
</script>
</body></html>
